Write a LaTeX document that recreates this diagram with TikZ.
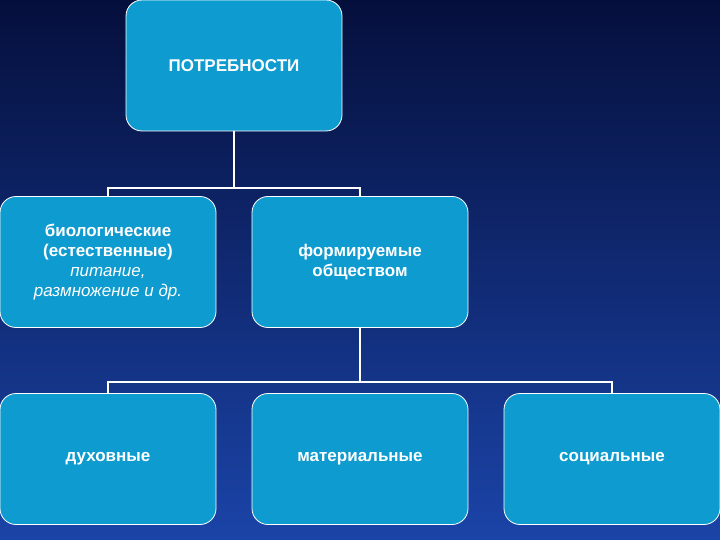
\documentclass[tikz,border=0pt]{standalone}
\usepackage{fontspec}
\setmainfont{Liberation Sans}
\begin{document}
\begin{tikzpicture}[x=1pt,y=-1pt,
  box/.style={draw=white,line width=0.8pt,fill=boxc,rounded corners=16pt,minimum width=216pt,minimum height=131pt,align=center,text=white,font=\fontsize{17}{20}\selectfont\bfseries,inner sep=2pt},
  conn/.style={draw=white,line width=2pt}]
\definecolor{boxc}{HTML}{0E9BCF}
\definecolor{bgtop}{HTML}{050F3C}
\definecolor{bgbot}{HTML}{1B44A8}
\shade[top color=bgtop,bottom color=bgbot] (0,0) rectangle (720,540);
\useasboundingbox (0,0) rectangle (720,540);
\node[box] (top) at (234,65.5) {ПОТРЕБНОСТИ};
\node[box] (bio) at (108,262) {биологические\\(естественные)\\{\mdseries\itshape питание,}\\{\mdseries\itshape размножение и др.}};
\node[box] (form) at (360,262) {формируемые\\обществом};
\node[box] (duh) at (108,459) {духовные};
\node[box] (mat) at (360,459) {материальные};
\node[box] (soc) at (612,459) {социальные};
\coordinate (j1) at (234,188);
\coordinate (j2) at (360,382);
\draw[conn] (top.south) -- (j1);
\draw[conn] (bio.north) -- (bio.north |- j1) -- (form.north |- j1) -- (form.north);
\draw[conn] (form.south) -- (j2);
\draw[conn] (duh.north) -- (duh.north |- j2) -- (soc.north |- j2) -- (soc.north);
\end{tikzpicture}
\end{document}
